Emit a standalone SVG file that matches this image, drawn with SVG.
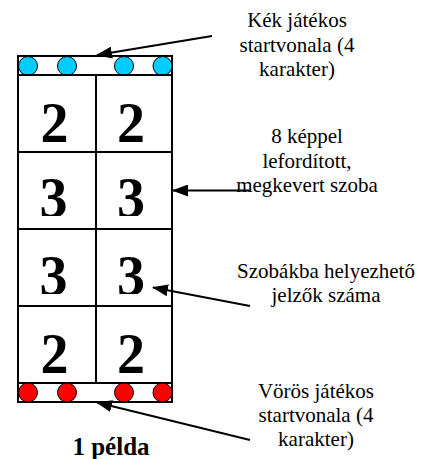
<svg xmlns="http://www.w3.org/2000/svg" width="430" height="459" viewBox="0 0 430 459">
  <style>
    .cell { fill: #ffffff; stroke: #000000; stroke-width: 2; }
    .strip { fill: #ffffff; stroke: #000000; stroke-width: 2; }
    .blue { fill: #00ccff; stroke: #000000; stroke-width: 1; }
    .red { fill: #ff0000; stroke: #000000; stroke-width: 1; }
    text { fill: #000000; text-anchor: middle; }
    .num { font-weight: bold; font-size: 56px; }
    .label { font-size: 21px; }
    .title { font-weight: bold; font-size: 25px; }
    .conn { stroke: #000000; stroke-width: 2; fill: none; marker-end: url(#head); }
  </style>
  <defs>
    <marker id="head" viewBox="0 0 16 12" refX="15" refY="6" markerWidth="16" markerHeight="12" markerUnits="userSpaceOnUse" orient="auto">
      <path d="M0,0 L16,6 L0,12 Z" fill="#000000"/>
    </marker>
    <!-- digit boxes crop the bottom of the glyphs slightly -->
    <clipPath id="clipRow2"><rect x="18" y="152" width="154" height="64"/></clipPath>
    <clipPath id="clipRow3"><rect x="18" y="229" width="154" height="65"/></clipPath>
  </defs>

  <!-- blue start line -->
  <g id="blue-start">
    <rect class="strip" x="18" y="56" width="154" height="19"/>
    <circle class="blue" cx="28" cy="66" r="9.5"/>
    <circle class="blue" cx="67" cy="66" r="9.5"/>
    <circle class="blue" cx="124" cy="66" r="9.5"/>
    <circle class="blue" cx="162.5" cy="66" r="9.5"/>
  </g>

  <!-- rooms -->
  <g id="room-r1c1" font-family="Times New Roman">
    <rect class="cell" x="18" y="75" width="78" height="77"/>
    <text class="num" x="54.5" y="141.7">2</text>
  </g>
  <g id="room-r1c2" font-family="Times New Roman">
    <rect class="cell" x="96" y="75" width="76" height="77"/>
    <text class="num" x="131" y="141.7">2</text>
  </g>
  <g id="room-r2c1" font-family="Times New Roman">
    <rect class="cell" x="18" y="152" width="78" height="77"/>
    <text class="num" x="53.5" y="216.8" clip-path="url(#clipRow2)">3</text>
  </g>
  <g id="room-r2c2" font-family="Times New Roman">
    <rect class="cell" x="96" y="152" width="76" height="77"/>
    <text class="num" x="131" y="216.8" clip-path="url(#clipRow2)">3</text>
  </g>
  <g id="room-r3c1" font-family="Times New Roman">
    <rect class="cell" x="18" y="229" width="78" height="77"/>
    <text class="num" x="53.5" y="294.8" clip-path="url(#clipRow3)">3</text>
  </g>
  <g id="room-r3c2" font-family="Times New Roman">
    <rect class="cell" x="96" y="229" width="76" height="77"/>
    <text class="num" x="131" y="294.8" clip-path="url(#clipRow3)">3</text>
  </g>
  <g id="room-r4c1" font-family="Times New Roman">
    <rect class="cell" x="18" y="306" width="78" height="77"/>
    <text class="num" x="54.5" y="372.7">2</text>
  </g>
  <g id="room-r4c2" font-family="Times New Roman">
    <rect class="cell" x="96" y="306" width="76" height="77"/>
    <text class="num" x="131" y="372.7">2</text>
  </g>

  <!-- red start line -->
  <g id="red-start">
    <rect class="strip" x="18" y="383" width="154" height="19"/>
    <circle class="red" cx="28" cy="392.5" r="9.5"/>
    <circle class="red" cx="67" cy="392.5" r="9.5"/>
    <circle class="red" cx="124" cy="392.5" r="9.5"/>
    <circle class="red" cx="162.5" cy="392.5" r="9.5"/>
  </g>

  <!-- callout labels -->
  <g id="label-blue" font-family="Times New Roman">
    <text class="label" x="297" y="27">Kék játékos</text>
    <text class="label" x="297" y="51.5">startvonala (4</text>
    <text class="label" x="297" y="76">karakter)</text>
  </g>
  <g id="label-rooms" font-family="Times New Roman">
    <text class="label" x="307" y="143">8 képpel</text>
    <text class="label" x="307" y="167.5">lefordított,</text>
    <text class="label" x="307" y="192">megkevert szoba</text>
  </g>
  <g id="label-markers" font-family="Times New Roman">
    <text class="label" x="326" y="278">Szobákba helyezhető</text>
    <text class="label" x="326" y="302">jelzők száma</text>
  </g>
  <g id="label-red" font-family="Times New Roman">
    <text class="label" x="316" y="398">Vörös játékos</text>
    <text class="label" x="316" y="422">startvonala (4</text>
    <text class="label" x="316" y="446">karakter)</text>
  </g>

  <g id="title" font-family="Times New Roman">
    <text class="title" x="111" y="455">1 példa</text>
  </g>

  <!-- connectors -->
  <g id="connectors">
    <line class="conn" x1="212" y1="36" x2="97" y2="55"/>
    <line class="conn" x1="250" y1="190.5" x2="173" y2="190.5"/>
    <line class="conn" x1="250" y1="306" x2="153" y2="287.5"/>
    <line class="conn" x1="250" y1="440" x2="97" y2="402.5"/>
  </g>
</svg>
